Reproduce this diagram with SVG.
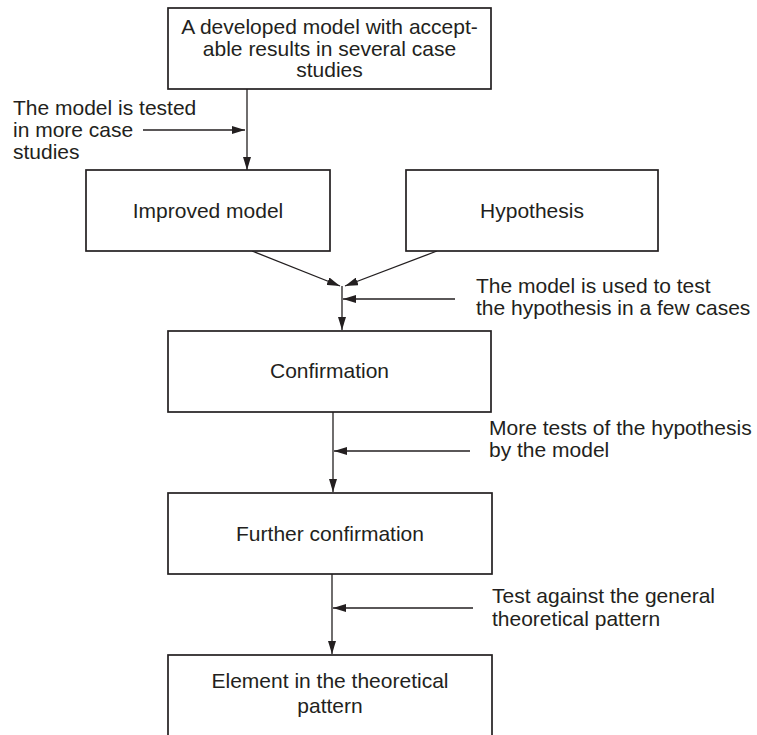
<svg xmlns="http://www.w3.org/2000/svg" width="757" height="735" viewBox="0 0 757 735">
  <style>
    .box { fill: #ffffff; stroke: #231f20; stroke-width: 1.7; }
    .txt { font-family: "Liberation Sans", Arial, sans-serif; font-size: 21px; fill: #231f20; }
    .mid { text-anchor: middle; }
    .conn { stroke: #231f20; stroke-width: 1.3; fill: none; }
  </style>
  <defs>
    <marker id="arrow" markerUnits="userSpaceOnUse" markerWidth="13" markerHeight="8" refX="13" refY="4" orient="auto">
      <path d="M0,0 L13,4 L0,8 z" fill="#231f20"/>
    </marker>
  </defs>
  <rect width="757" height="735" fill="#ffffff"/>

  <g id="connectors">
    <line class="conn" x1="247" y1="89" x2="247" y2="170" marker-end="url(#arrow)"/>
    <line class="conn" x1="143" y1="130" x2="245" y2="130" marker-end="url(#arrow)"/>
    <line class="conn" x1="252" y1="251" x2="340" y2="286" marker-end="url(#arrow)"/>
    <line class="conn" x1="437" y1="251" x2="345" y2="286" marker-end="url(#arrow)"/>
    <line class="conn" x1="342" y1="286" x2="342" y2="330" marker-end="url(#arrow)"/>
    <line class="conn" x1="455" y1="299" x2="343" y2="299" marker-end="url(#arrow)"/>
    <line class="conn" x1="333" y1="412" x2="333" y2="492" marker-end="url(#arrow)"/>
    <line class="conn" x1="470" y1="451" x2="334" y2="451" marker-end="url(#arrow)"/>
    <line class="conn" x1="332" y1="574" x2="332" y2="654" marker-end="url(#arrow)"/>
    <line class="conn" x1="473" y1="608" x2="333" y2="608" marker-end="url(#arrow)"/>
  </g>

  <g id="node-developed-model">
    <rect class="box" x="168" y="8" width="323" height="81"/>
    <text class="txt mid" x="329.5" y="34">A developed model with accept-</text>
    <text class="txt mid" x="329.5" y="55.5">able results in several case</text>
    <text class="txt mid" x="329.5" y="77">studies</text>
  </g>

  <g id="label-tested">
    <text class="txt" x="13" y="115">The model is tested</text>
    <text class="txt" x="13" y="137">in more case</text>
    <text class="txt" x="13" y="159">studies</text>
  </g>

  <g id="node-improved-model">
    <rect class="box" x="86" y="170" width="244" height="81"/>
    <text class="txt mid" x="208" y="218">Improved model</text>
  </g>

  <g id="node-hypothesis">
    <rect class="box" x="406" y="170" width="252" height="81"/>
    <text class="txt mid" x="532" y="218">Hypothesis</text>
  </g>

  <g id="label-used-to-test">
    <text class="txt" x="476" y="293">The model is used to test</text>
    <text class="txt" x="476" y="315">the hypothesis in a few cases</text>
  </g>

  <g id="node-confirmation">
    <rect class="box" x="168" y="331" width="323" height="81"/>
    <text class="txt mid" x="329.5" y="378">Confirmation</text>
  </g>

  <g id="label-more-tests">
    <text class="txt" x="489" y="435">More tests of the hypothesis</text>
    <text class="txt" x="489" y="457">by the model</text>
  </g>

  <g id="node-further-confirmation">
    <rect class="box" x="168" y="493" width="324" height="81"/>
    <text class="txt mid" x="330" y="541">Further confirmation</text>
  </g>

  <g id="label-general-pattern">
    <text class="txt" x="492" y="603">Test against the general</text>
    <text class="txt" x="492" y="626">theoretical pattern</text>
  </g>

  <g id="node-element">
    <rect class="box" x="168" y="655" width="324" height="100"/>
    <text class="txt mid" x="330" y="688">Element in the theoretical</text>
    <text class="txt mid" x="330" y="713">pattern</text>
  </g>
</svg>
